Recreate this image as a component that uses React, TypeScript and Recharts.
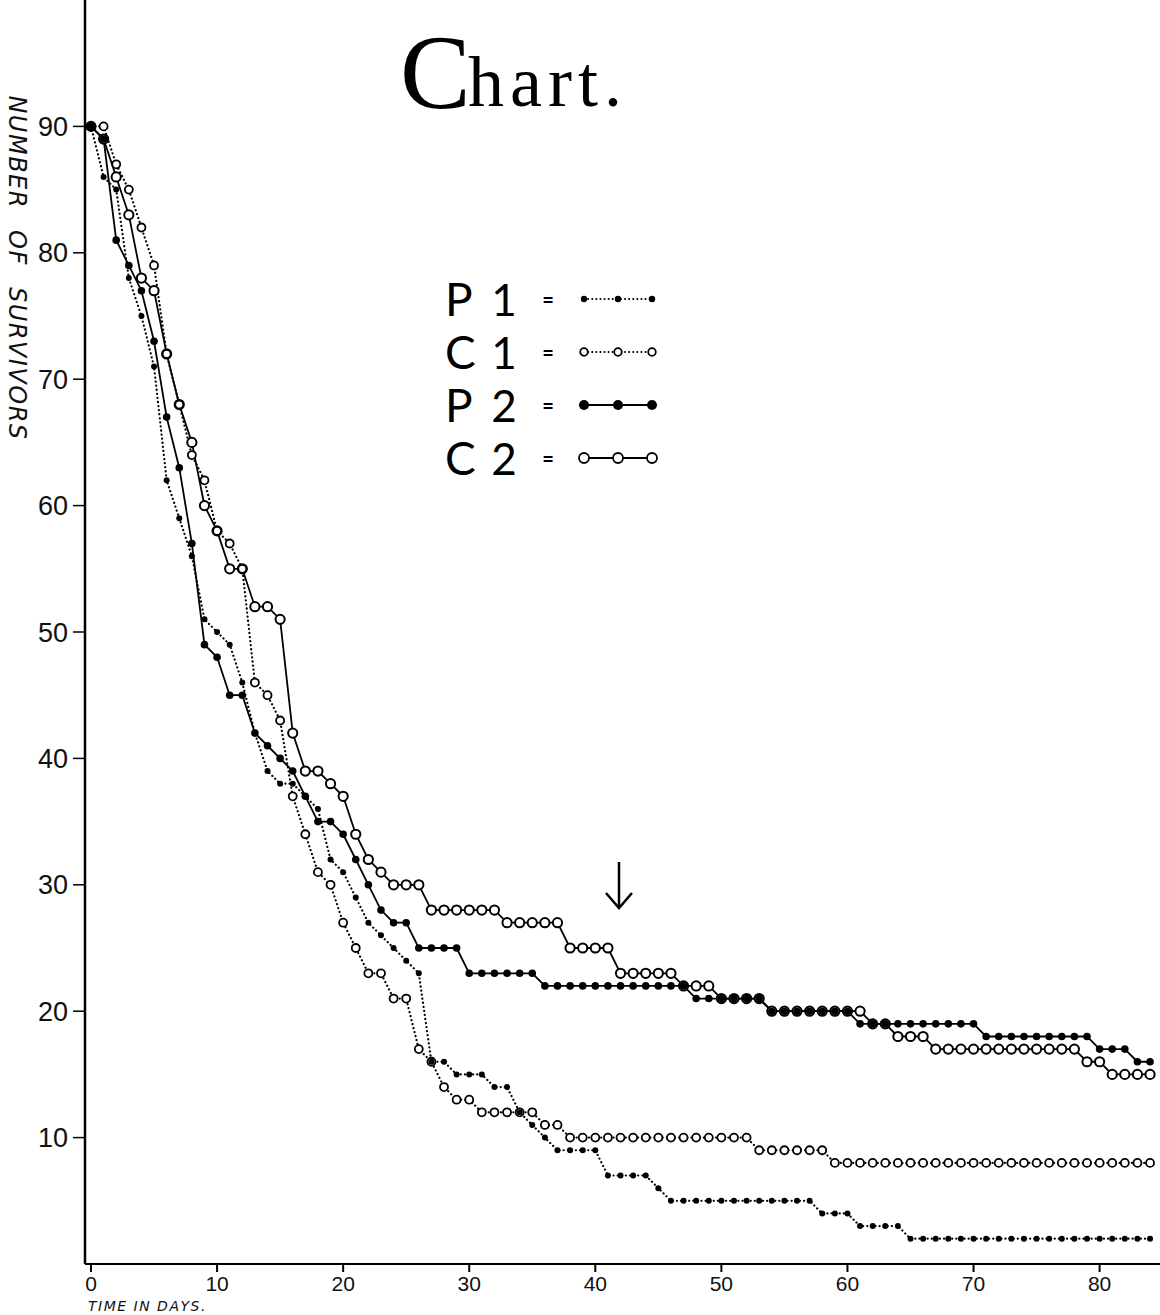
import { LineChart, Line, XAxis, YAxis, Legend, Label } from 'recharts';

// Number of survivors per day (day 0 .. day 84)
const P1 = [
  90, 86, 85, 78, 75, 71, 62, 59, 56, 51, 50, 49, 46, 42, 39, 38, 38, 37, 36, 32,
  31, 29, 27, 26, 25, 24, 23, 16, 16, 15, 15, 15, 14, 14, 12, 11, 10, 9, 9, 9,
  9, 7, 7, 7, 7, 6, 5, 5, 5, 5, 5, 5, 5, 5, 5, 5, 5, 5, 4, 4,
  4, 3, 3, 3, 3, 2, 2, 2, 2, 2, 2, 2, 2, 2, 2, 2, 2, 2, 2, 2,
  2, 2, 2, 2, 2,
];
const C1 = [
  90, 90, 87, 85, 82, 79, 72, 68, 64, 62, 58, 57, 55, 46, 45, 43, 37, 34, 31, 30,
  27, 25, 23, 23, 21, 21, 17, 16, 14, 13, 13, 12, 12, 12, 12, 12, 11, 11, 10, 10,
  10, 10, 10, 10, 10, 10, 10, 10, 10, 10, 10, 10, 10, 9, 9, 9, 9, 9, 9, 8,
  8, 8, 8, 8, 8, 8, 8, 8, 8, 8, 8, 8, 8, 8, 8, 8, 8, 8, 8, 8,
  8, 8, 8, 8, 8,
];
const P2 = [
  90, 89, 81, 79, 77, 73, 67, 63, 57, 49, 48, 45, 45, 42, 41, 40, 39, 37, 35, 35,
  34, 32, 30, 28, 27, 27, 25, 25, 25, 25, 23, 23, 23, 23, 23, 23, 22, 22, 22, 22,
  22, 22, 22, 22, 22, 22, 22, 22, 21, 21, 21, 21, 21, 21, 20, 20, 20, 20, 20, 20,
  20, 19, 19, 19, 19, 19, 19, 19, 19, 19, 19, 18, 18, 18, 18, 18, 18, 18, 18, 18,
  17, 17, 17, 16, 16,
];
const C2 = [
  90, 89, 86, 83, 78, 77, 72, 68, 65, 60, 58, 55, 55, 52, 52, 51, 42, 39, 39, 38,
  37, 34, 32, 31, 30, 30, 30, 28, 28, 28, 28, 28, 28, 27, 27, 27, 27, 27, 25, 25,
  25, 25, 23, 23, 23, 23, 23, 22, 22, 22, 21, 21, 21, 21, 20, 20, 20, 20, 20, 20,
  20, 20, 19, 19, 18, 18, 18, 17, 17, 17, 17, 17, 17, 17, 17, 17, 17, 17, 17, 16,
  16, 15, 15, 15, 15,
];

const xTicks = [0, 10, 20, 30, 40, 50, 60, 70, 80];
const yTicks = [10, 20, 30, 40, 50, 60, 70, 80, 90];
const legendOrder = ['P1', 'C1', 'P2', 'C2'];

const chartData = P1.map((v, i) => ({ day: i, P1: v, C1: C1[i], P2: P2[i], C2: C2[i] }));

const filledDot = (name: string, r: number) => (props: any) => (
  <circle key={`${name}-${props.index}`} cx={props.cx} cy={props.cy} r={r} fill="#000" />
);
const openDot = (name: string, r: number, sw: number) => (props: any) => (
  <circle key={`${name}-${props.index}`} cx={props.cx} cy={props.cy} r={r} fill="#fff" stroke="#000" strokeWidth={sw} />
);

const DOTTED = '0.1 4';

function Sample({ name }: { name: string }) {
  const dotted = name === 'P1' || name === 'C1';
  const open = name.startsWith('C');
  const r = name === 'P1' ? 3.2 : name === 'C1' ? 3.8 : 5;
  return (
    <svg width={80} height={24} style={{ display: 'block' }}>
      <line x1={6} y1={12} x2={74} y2={12} stroke="#000" strokeWidth={2}
        strokeDasharray={dotted ? DOTTED : undefined} strokeLinecap="round" />
      {[6, 40, 74].map((cx) => (
        <circle key={cx} cx={cx} cy={12} r={r} fill={open ? '#fff' : '#000'} stroke="#000" strokeWidth={open ? 1.8 : 0} />
      ))}
    </svg>
  );
}

function SurvivorLegend(props: any) {
  const names = (props.payload || []).map((p: any) => p.value);
  const rows = legendOrder.filter((n) => names.length === 0 || names.includes(n));
  return (
    <div style={{ fontFamily: 'Lato', color: '#000' }}>
      {rows.map((n) => (
        <div key={n} style={{ display: 'flex', alignItems: 'center', height: 53, overflow: 'hidden' }}>
          <span style={{ display: 'inline-block', width: 45, fontSize: 46, lineHeight: '50px' }}>{n[0]}</span>
          <span style={{ display: 'inline-block', width: 28, fontSize: 44, lineHeight: '50px', textAlign: 'center' }}>{n[1]}</span>
          <span style={{ display: 'inline-block', width: 60, fontSize: 20, fontWeight: 700, textAlign: 'center' }}>=</span>
          <Sample name={n} />
        </div>
      ))}
    </div>
  );
}

const YTitle = () => (
  <text transform="translate(9, 268) rotate(90)" textAnchor="middle" fontFamily="DejaVu Sans"
    fontStyle="italic" fontSize={24} letterSpacing={1.5} wordSpacing={12} fill="#111">
    NUMBER OF SURVIVORS
  </text>
);

const XTitle = () => (
  <text x={88} y={1311} fontFamily="DejaVu Sans" fontStyle="italic" fontSize={14} letterSpacing={1.5} fill="#111">
    TIME IN DAYS.
  </text>
);

export default function App() {
  return (
    <div style={{ position: 'absolute', left: 0, top: 0, width: 1160, height: 1315, background: '#fff' }}>
      <LineChart width={1160} height={1315} data={chartData} margin={{ top: 0, right: 0, bottom: 0, left: 0 }}>
        <XAxis dataKey="day" type="number" domain={[-0.476, 84.79]} ticks={xTicks} allowDataOverflow
          height={51} tickSize={8} tickMargin={4}
          axisLine={{ stroke: '#000', strokeWidth: 2 }} tickLine={{ stroke: '#000', strokeWidth: 2 }}
          tick={{ fill: '#111', fontSize: 21, fontFamily: 'Liberation Sans' }}>
          <Label content={XTitle} />
        </XAxis>
        <YAxis type="number" domain={[0, 100]} ticks={yTicks} allowDataOverflow width={85}
          tickSize={12} tickMargin={5}
          axisLine={{ stroke: '#000', strokeWidth: 2.5 }} tickLine={{ stroke: '#000', strokeWidth: 1.5 }}
          tick={{ fill: '#111', fontSize: 27, fontFamily: 'Liberation Sans' }}>
          <Label content={YTitle} />
        </YAxis>
        <Legend layout="vertical" verticalAlign="middle" align="center" content={SurvivorLegend}
          wrapperStyle={{ left: 445, top: 272, width: 240 }} />
        <Line type="linear" dataKey="C2" name="C2" stroke="#000" strokeWidth={1.8}
          dot={openDot('C2', 4.6, 2)} activeDot={false} isAnimationActive={false} />
        <Line type="linear" dataKey="C1" name="C1" stroke="#000" strokeWidth={2.2} strokeDasharray={DOTTED}
          strokeLinecap="round" dot={openDot('C1', 4, 1.8)} activeDot={false} isAnimationActive={false} />
        <Line type="linear" dataKey="P2" name="P2" stroke="#000" strokeWidth={1.8}
          dot={filledDot('P2', 3.8)} activeDot={false} isAnimationActive={false} />
        <Line type="linear" dataKey="P1" name="P1" stroke="#000" strokeWidth={2.2} strokeDasharray={DOTTED}
          strokeLinecap="round" dot={filledDot('P1', 3)} activeDot={false} isAnimationActive={false} />
      </LineChart>
      <svg width={1160} height={1315} style={{ position: 'absolute', left: 0, top: 0, pointerEvents: 'none' }}>
        <text x={400} y={108} fontFamily="Liberation Serif" fontSize={106} fill="#000">C</text>
        <text x={468} y={106} fontFamily="Liberation Serif" fontSize={72} letterSpacing={6} fill="#000">hart.</text>
        <line x1={619} y1={862} x2={619} y2={906} stroke="#000" strokeWidth={2.5} />
        <polyline points="606,893 619,908 632,893" fill="none" stroke="#000" strokeWidth={2.5} />
      </svg>
    </div>
  );
}
